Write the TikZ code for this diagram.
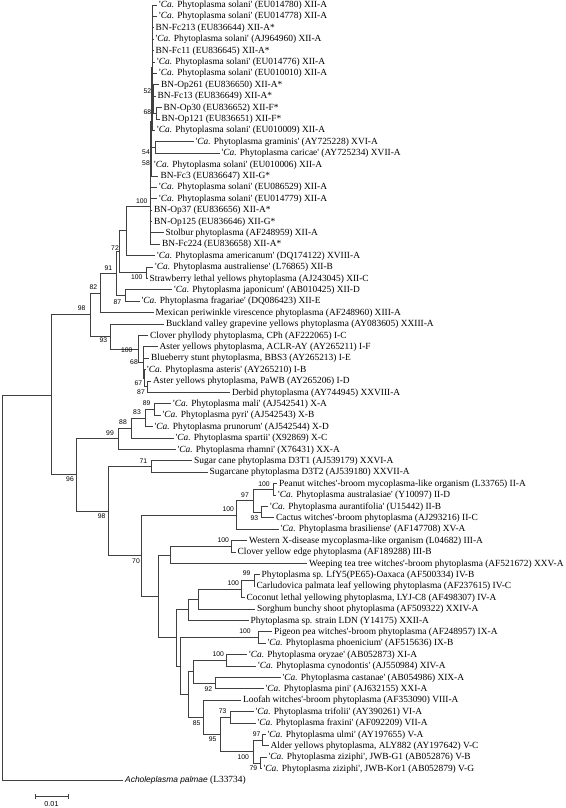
\documentclass[tikz,border=0pt]{standalone}
\usepackage{fontspec}
\setmainfont{Liberation Serif}
\newfontfamily\bsfont{Liberation Sans}
\newcommand\qq{\textquotesingle}
\newcommand\CaP[1]{\qq\textit{Ca.} Phytoplasma #1\qq}
\newcommand\Lf[4]{\node[lf] (#1) at (#2,#3) {#4};}
\newcommand\Nd[3]{\coordinate (#1) at (#2,#3);}
\newcommand\Ed[2]{\foreach \c in {#2} {\draw[br] (#1) |- (\c);}}
\newcommand\Bs[4]{\node[bs] (#1) at (#2,#3) {#4};}
\begin{document}
\begin{tikzpicture}[x=1pt,y=-1pt,
  br/.style={draw=black!75, line width=0.85pt},
  lf/.style={anchor=west, inner xsep=2pt, inner ysep=0pt, text height=6.6pt, text depth=1.6pt, font=\fontsize{9.4}{10}\selectfont},
  bs/.style={inner sep=0pt, font=\bsfont\fontsize{6.8}{7}\selectfont},
]
\useasboundingbox (0,0) rectangle (565,808);
% leaves
\Lf{l1}{157}{5.0}{\CaP{solani} (EU014780) XII-A}
\Lf{l2}{157}{16.4}{\CaP{solani} (EU014778) XII-A}
\Lf{l3}{153.5}{27.8}{BN-Fc213 (EU836644) XII-A*}
\Lf{l4}{153.5}{39.2}{\CaP{solani} (AJ964960) XII-A}
\Lf{l5}{153.5}{50.6}{BN-Fc11 (EU836645) XII-A*}
\Lf{l6}{155}{62.0}{\CaP{solani} (EU014776) XII-A}
\Lf{l7}{157}{73.4}{\CaP{solani} (EU010010) XII-A}
\Lf{l8}{159}{84.8}{BN-Op261 (EU836650) XII-A*}
\Lf{l9}{155.5}{96.2}{BN-Fc13 (EU836649) XII-A*}
\Lf{l10}{161.5}{107.6}{BN-Op30 (EU836652) XII-F*}
\Lf{l11}{159.5}{119.0}{BN-Op121 (EU836651) XII-F*}
\Lf{l12}{155}{130.4}{\CaP{solani} (EU010009) XII-A}
\Lf{l13}{193.5}{141.8}{\CaP{graminis} (AY725228) XVI-A}
\Lf{l14}{219.5}{153.2}{\CaP{caricae} (AY725234) XVII-A}
\Lf{l15}{152}{164.6}{\CaP{solani} (EU010006) XII-A}
\Lf{l16}{158.3}{176.0}{BN-Fc3 (EU836647) XII-G*}
\Lf{l17}{157}{187.4}{\CaP{solani} (EU086529) XII-A}
\Lf{l18}{157}{198.7}{\CaP{solani} (EU014779) XII-A}
\Lf{l19}{152}{210.1}{BN-Op37 (EU836656) XII-A*}
\Lf{l20}{152}{221.5}{BN-Op125 (EU836646) XII-G*}
\Lf{l21}{163.5}{232.9}{Stolbur phytoplasma (AF248959) XII-A}
\Lf{l22}{160}{244.3}{BN-Fc224 (EU836658) XII-A*}
\Lf{l23}{155}{255.7}{\CaP{americanum} (DQ174122) XVIII-A}
\Lf{l24}{153}{267.1}{\CaP{australiense} (L76865) XII-B}
\Lf{l25}{147.5}{278.5}{Strawberry lethal yellows phytoplasma (AJ243045) XII-C}
\Lf{l26}{172}{289.9}{\CaP{japonicum} (AB010425) XII-D}
\Lf{l27}{139.5}{301.3}{\CaP{fragariae} (DQ086423) XII-E}
\Lf{l28}{153.5}{312.7}{Mexican periwinkle virescence phytoplasma (AF248960) XIII-A}
\Lf{l29}{164}{324.1}{Buckland valley grapevine yellows phytoplasma (AY083605) XXIII-A}
\Lf{l30}{148}{335.5}{Clover phyllody phytoplasma, CPh (AF222065) I-C}
\Lf{l31}{157.5}{346.9}{Aster yellows phytoplasma, ACLR-AY (AY265211) I-F}
\Lf{l32}{149}{358.3}{Blueberry stunt phytoplasma, BBS3 (AY265213) I-E}
\Lf{l33}{145}{369.7}{\CaP{asteris} (AY265210) I-B}
\Lf{l34}{151}{381.1}{Aster yellows phytoplasma, PaWB (AY265206) I-D}
\Lf{l35}{230}{392.5}{Derbid phytoplasma (AY744945) XXVIII-A}
\Lf{l36}{171}{403.9}{\CaP{mali} (AJ542541) X-A}
\Lf{l37}{160.5}{415.3}{\CaP{pyri} (AJ542543) X-B}
\Lf{l38}{152.5}{426.7}{\CaP{prunorum} (AJ542544) X-D}
\Lf{l39}{173.5}{438.1}{\CaP{spartii} (X92869) X-C}
\Lf{l40}{175.5}{449.5}{\CaP{rhamni} (X76431) XX-A}
\Lf{l41}{192}{460.9}{Sugar cane phytoplasma D3T1 (AJ539179) XXVI-A}
\Lf{l42}{207.5}{472.3}{Sugarcane phytoplasma D3T2 (AJ539180) XXVII-A}
\Lf{l43}{277}{483.7}{Peanut witches\qq-broom mycoplasma-like organism (L33765) II-A}
\Lf{l44}{276}{495.1}{\CaP{australasiae} (Y10097) II-D}
\Lf{l45}{268}{506.5}{\CaP{aurantifolia} (U15442) II-B}
\Lf{l46}{274}{517.9}{Cactus witches\qq-broom phytoplasma (AJ293216) II-C}
\Lf{l47}{278.5}{529.3}{\CaP{brasiliense} (AF147708) XV-A}
\Lf{l48}{247}{540.7}{Western X-disease mycoplasma-like organism (L04682) III-A}
\Lf{l49}{235.5}{552.1}{Clover yellow edge phytoplasma (AF189288) III-B}
\Lf{l50}{307}{563.5}{Weeping tea tree witches\qq-broom phytoplasma (AF521672) XXV-A}
\Lf{l51}{259.5}{574.9}{Phytoplasma sp. LfY5(PE65)-Oaxaca (AF500334) IV-B}
\Lf{l52}{254.5}{586.3}{Carludovica palmata leaf yellowing phytoplasma (AF237615) IV-C}
\Lf{l53}{244.5}{597.7}{Coconut lethal yellowing phytoplasma, LYJ-C8 (AF498307) IV-A}
\Lf{l54}{255}{609.1}{Sorghum bunchy shoot phytoplasma (AF509322) XXIV-A}
\Lf{l55}{248.5}{620.5}{Phytoplasma sp. strain LDN (Y14175) XXII-A}
\Lf{l56}{272}{631.9}{Pigeon pea witches\qq-broom phytoplasma (AF248957) IX-A}
\Lf{l57}{265.5}{643.3}{\CaP{phoenicium} (AF515636) IX-B}
\Lf{l58}{247}{654.7}{\CaP{oryzae} (AB052873) XI-A}
\Lf{l59}{256}{666.1}{\CaP{cynodontis} (AJ550984) XIV-A}
\Lf{l60}{280.5}{677.5}{\CaP{castanae} (AB054986) XIX-A}
\Lf{l61}{263.5}{688.9}{\CaP{pini} (AJ632155) XXI-A}
\Lf{l62}{241}{700.3}{Loofah witches\qq-broom phytoplasma (AF353090) VIII-A}
\Lf{l63}{253.5}{711.7}{\CaP{trifolii} (AY390261) VI-A}
\Lf{l64}{255.5}{723.1}{\CaP{fraxini} (AF092209) VII-A}
\Lf{l65}{265.5}{734.5}{\CaP{ulmi} (AY197655) V-A}
\Lf{l66}{268.5}{745.9}{Alder yellows phytoplasma, ALY882 (AY197642) V-C}
\Lf{l67}{266.5}{757.3}{\qq\textit{Ca.} Phytoplasma ziziphi\qq, JWB-G1 (AB052876) V-B}
\Lf{l68}{261.5}{768.7}{\qq\textit{Ca.} Phytoplasma ziziphi\qq, JWB-Kor1 (AB052879) V-G}
\Lf{l69}{123}{780.0}{{\bsfont\fontsize{8.4}{9}\selectfont\itshape Acholeplasma palmae} (L33734)}
% internal nodes
\Nd{n68}{156.3}{113.3}
\Nd{n52}{153.3}{99.0}
\Nd{ntop}{152.3}{67.7}
\Nd{n54}{155}{147.5}
\Nd{n58}{151.4}{121.9}
\Nd{n100a}{150.5}{206}
\Nd{nD}{126.7}{230.9}
\Nd{nstr}{146.7}{272.8}
\Nd{nC}{119.5}{251.8}
\Nd{n87}{125}{295.6}
\Nd{nB}{116}{273.7}
\Nd{nA}{100.7}{293.2}
\Nd{n67i}{147.3}{386.8}
\Nd{n87i}{144.5}{378.3}
\Nd{n68i}{143}{362.6}
\Nd{n100i}{138.3}{349.1}
\Nd{n93}{110}{336.6}
\Nd{n98}{90.7}{314.9}
\Nd{n89}{154}{409.6}
\Nd{n83}{145}{418.2}
\Nd{n88}{131.7}{428.1}
\Nd{n99}{118.3}{438.8}
\Nd{n71}{151.7}{466.6}
\Nd{npn}{273.3}{489.4}
\Nd{n93b}{261.7}{512.2}
\Nd{n97}{253.3}{500.8}
\Nd{n100b}{236.7}{515.05}
\Nd{n100c}{231.7}{546.4}
\Nd{n25}{170}{555.0}
\Nd{n99b}{254}{580.6}
\Nd{n100d}{241.7}{589.2}
\Nd{n24}{198.3}{599.2}
\Nd{n22}{188.3}{609.8}
\Nd{n100e}{258.3}{637.6}
\Nd{n100f}{226.7}{660.4}
\Nd{n92}{215}{683.2}
\Nd{n19}{193.3}{671.8}
\Nd{n73}{230}{717.4}
\Nd{n97b}{262.7}{740.2}
\Nd{n79}{260}{763.0}
\Nd{n100g}{253.3}{751.6}
\Nd{n95}{220.7}{734.5}
\Nd{n85}{203.3}{717.4}
\Nd{nd}{188.3}{694.6}
\Nd{nc}{180.7}{666.1}
\Nd{ne}{176.7}{637.9}
\Nd{nrest}{158.3}{596.4}
\Nd{n70}{141.7}{555.7}
\Nd{n98b}{108.3}{511.2}
\Nd{n96}{76.7}{474.9}
\Nd{n0}{51}{394.95}
\Nd{root}{2}{587.5}
% edges
\Ed{n68}{l10.west,l11.west}
\Ed{n52}{l8.west,l9.west,n68}
\Ed{ntop}{l1.west,l2.west,l3.west,l4.west,l5.west,l6.west,l7.west,n52,l12.west}
\Ed{n54}{l13.west,l14.west}
\Ed{n58}{ntop,n54,l15.west,l16.west}
\Ed{n100a}{n58,l17.west,l18.west,l19.west,l20.west,l21.west,l22.west}
\Ed{nD}{n100a,l23.west}
\Ed{nstr}{l24.west,l25.west}
\Ed{nC}{nD,nstr}
\Ed{n87}{l26.west,l27.west}
\Ed{nB}{nC,n87}
\Ed{nA}{nB,l28.west}
\Ed{n67i}{l34.west,l35.west}
\Ed{n87i}{l33.west,n67i}
\Ed{n68i}{l31.west,l32.west,n87i}
\Ed{n100i}{l30.west,n68i}
\Ed{n93}{l29.west,n100i}
\Ed{n98}{nA,n93}
\Ed{n89}{l36.west,l37.west}
\Ed{n83}{n89,l38.west}
\Ed{n88}{n83,l39.west}
\Ed{n99}{n88,l40.west}
\Ed{n71}{l41.west,l42.west}
\Ed{npn}{l43.west,l44.west}
\Ed{n93b}{l45.west,l46.west}
\Ed{n97}{npn,n93b}
\Ed{n100b}{n97,l47.west}
\Ed{n100c}{l48.west,l49.west}
\Ed{n25}{n100c,l50.west}
\Ed{n99b}{l51.west,l52.west}
\Ed{n100d}{n99b,l53.west}
\Ed{n24}{n100d,l54.west}
\Ed{n22}{n24,l55.west}
\Ed{n100e}{l56.west,l57.west}
\Ed{n100f}{l58.west,l59.west}
\Ed{n92}{l60.west,l61.west}
\Ed{n19}{n100f,n92}
\Ed{n73}{l63.west,l64.west}
\Ed{n97b}{l65.west,l66.west}
\Ed{n79}{l67.west,l68.west}
\Ed{n100g}{n97b,n79}
\Ed{n95}{n73,n100g}
\Ed{n85}{l62.west,n95}
\Ed{nd}{n19,n85}
\Ed{nc}{n100e,nd}
\Ed{ne}{n22,nc}
\Ed{nrest}{n25,ne}
\Ed{n70}{n100b,nrest}
\Ed{n98b}{n71,n70}
\Ed{n96}{n99,n98b}
\Ed{n0}{n98,n96}
\Ed{root}{n0,l69.west}
% bootstrap values
\Bs{b1}{147.3}{90.7}{52}
\Bs{b2}{147.3}{111.7}{68}
\Bs{b3}{146}{152.3}{54}
\Bs{b4}{146}{162.7}{58}
\Bs{b5}{141.7}{200.7}{100}
\Bs{b6}{115}{248.3}{72}
\Bs{b7}{108.3}{268.3}{91}
\Bs{b8}{136.7}{277.3}{100}
\Bs{b9}{93.3}{287.3}{82}
\Bs{b10}{117.3}{301.7}{87}
\Bs{b11}{81.7}{308.3}{98}
\Bs{b12}{103.3}{340}{93}
\Bs{b13}{126.7}{350}{100}
\Bs{b14}{134}{361.7}{68}
\Bs{b15}{138.3}{383.3}{67}
\Bs{b16}{141}{392.3}{87}
\Bs{b17}{146.7}{403}{89}
\Bs{b18}{137}{411.7}{83}
\Bs{b19}{123}{421.7}{88}
\Bs{b20}{110}{432.7}{99}
\Bs{b21}{143.3}{461}{71}
\Bs{b22}{70}{479.3}{96}
\Bs{b23}{264}{483.7}{100}
\Bs{b24}{245}{495}{97}
\Bs{b25}{228.3}{509.3}{100}
\Bs{b26}{101.7}{516}{98}
\Bs{b27}{254.3}{517.7}{93}
\Bs{b28}{223.3}{540}{100}
\Bs{b29}{136}{560.7}{70}
\Bs{b30}{246.7}{573.3}{99}
\Bs{b31}{233.3}{582.7}{100}
\Bs{b32}{245}{630.7}{100}
\Bs{b33}{218.3}{654}{100}
\Bs{b34}{208.3}{689}{92}
\Bs{b35}{222.7}{711}{73}
\Bs{b36}{196.7}{723}{85}
\Bs{b37}{212.7}{739.3}{95}
\Bs{b38}{256.7}{734.3}{97}
\Bs{b39}{243.3}{756.7}{100}
\Bs{b40}{253.3}{767.7}{79}
% scale bar
\coordinate (sbL) at (35,796);
\coordinate (sbR) at (68,796);
\draw[br] (sbL) -- (sbR);
\draw[br] ([yshift=-2.5pt]sbL) -- ([yshift=2.5pt]sbL);
\draw[br] ([yshift=-2.5pt]sbR) -- ([yshift=2.5pt]sbR);
\node[inner sep=0pt, font=\bsfont\fontsize{7.2}{8}\selectfont] (sblab) at (51.5,804) {0.01};
\end{tikzpicture}
\end{document}
